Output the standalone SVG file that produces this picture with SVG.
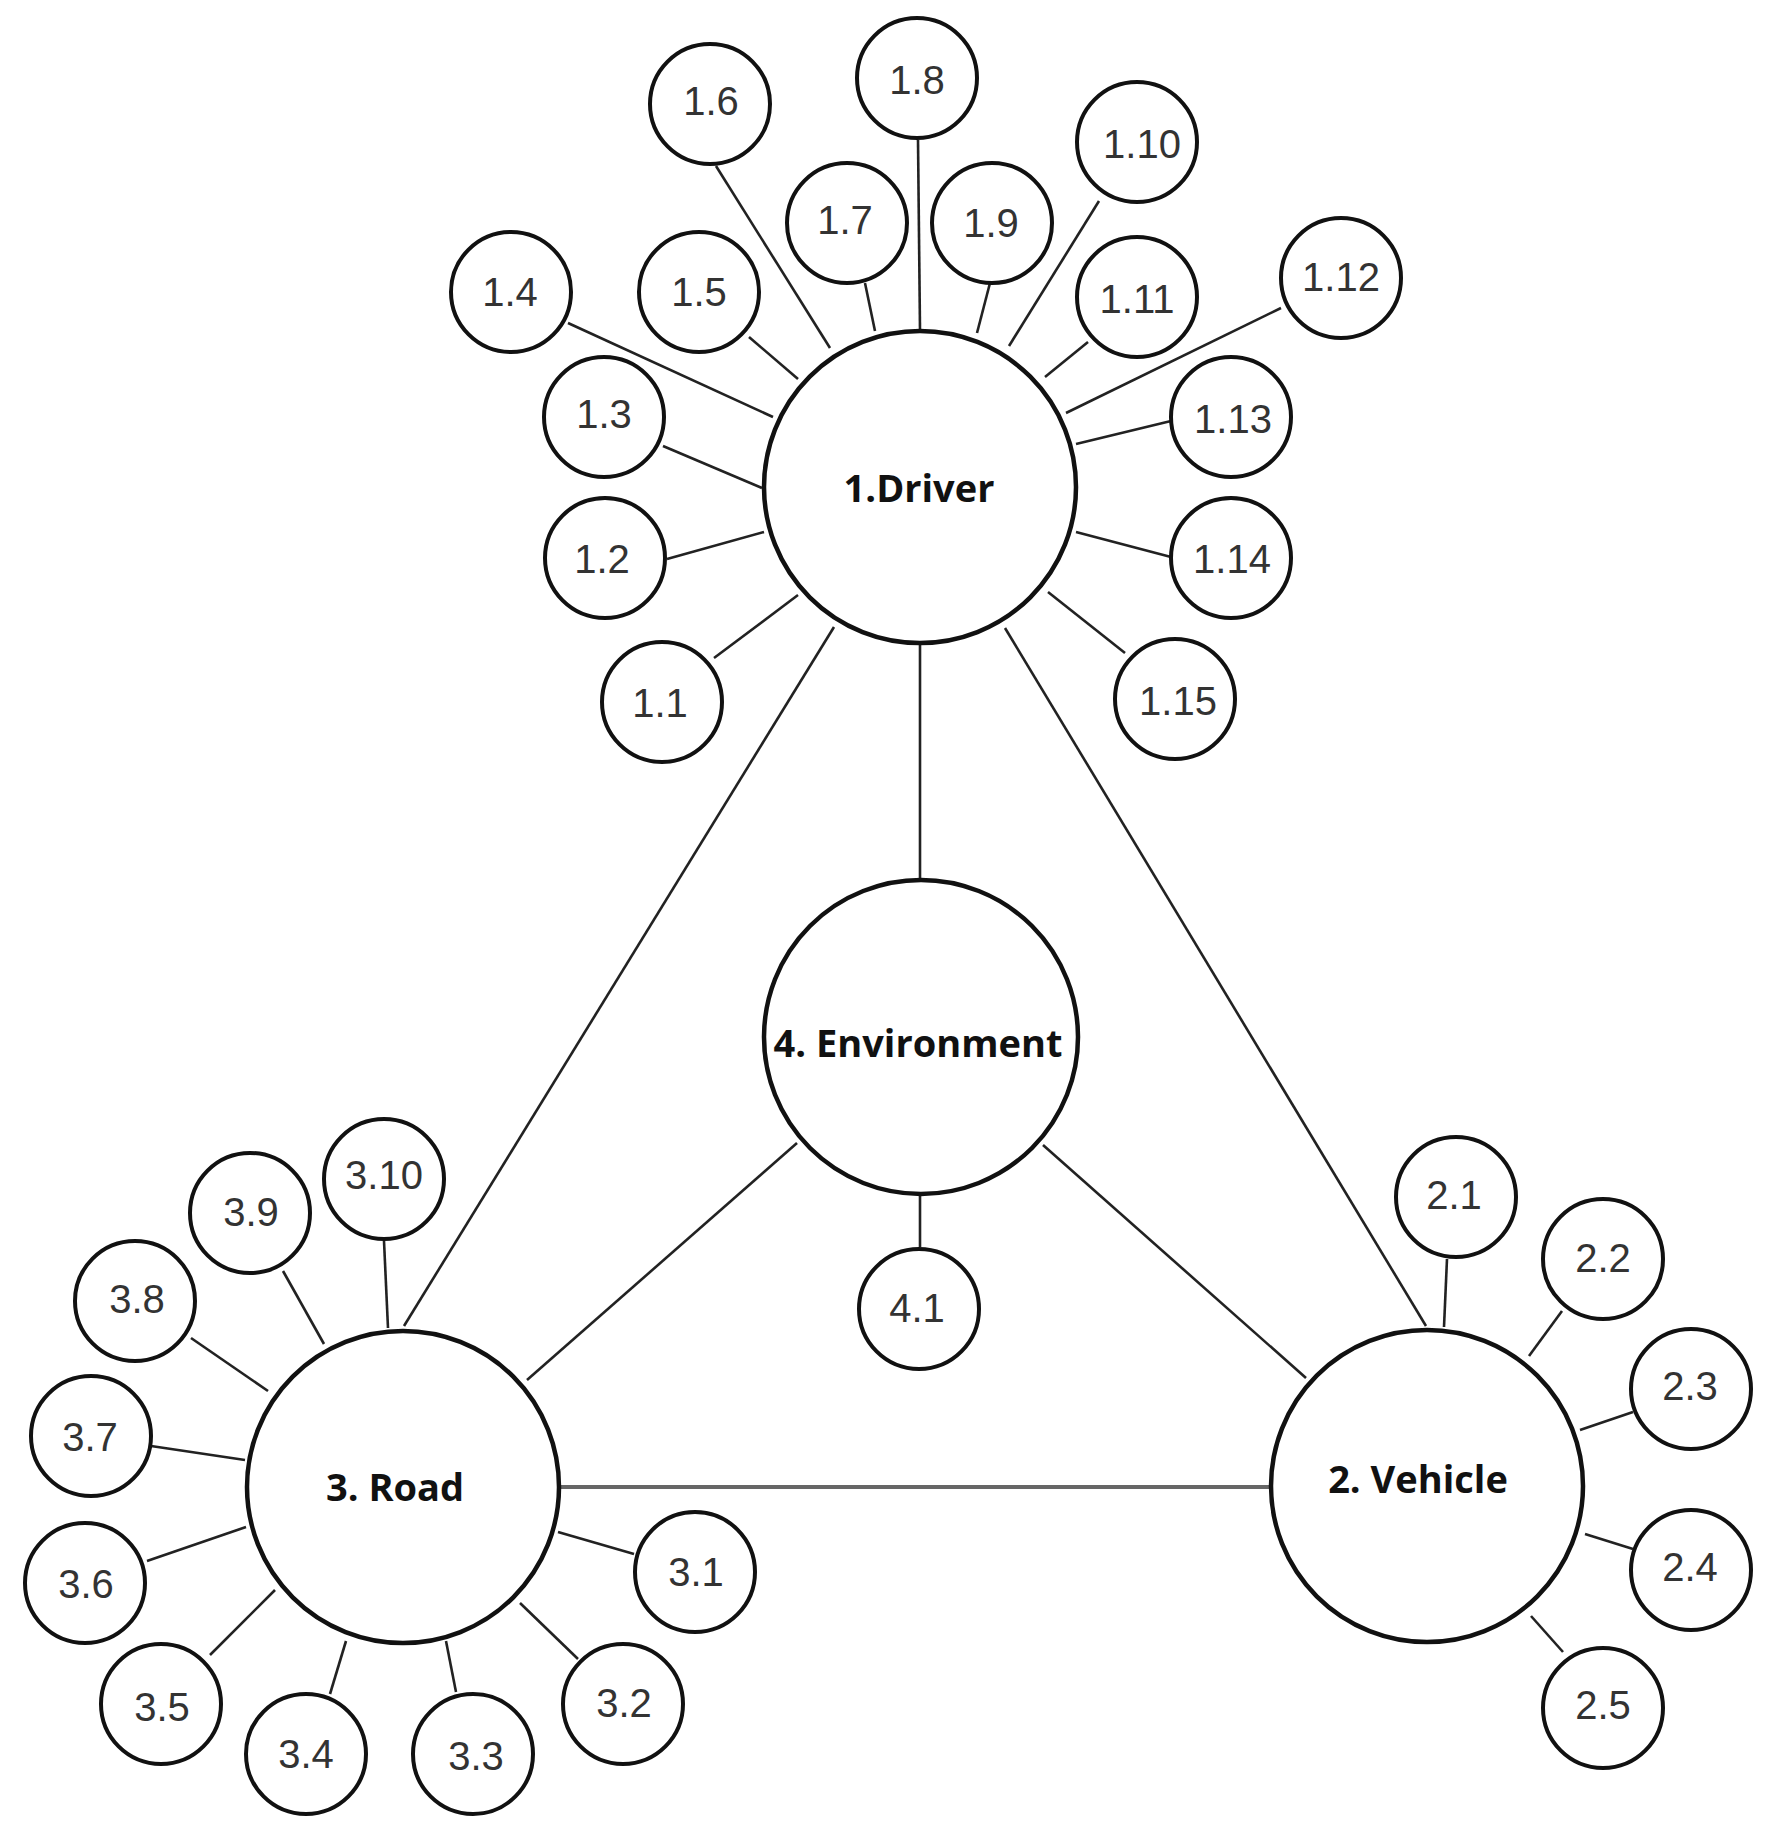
<svg xmlns="http://www.w3.org/2000/svg" width="1776" height="1839" viewBox="0 0 1776 1839">
<style>
.big{fill:#fff;stroke:#111;stroke-width:4.5}
.sm{fill:#fff;stroke:#111;stroke-width:4}
.ln{stroke:#222;stroke-width:2.6;fill:none}
.hl{stroke:#666;stroke-width:4;fill:none}
.bt{font-family:"Open Sans","DejaVu Sans",sans-serif;font-weight:bold;font-size:38px;fill:#111;text-anchor:middle}
.st{font-family:"Liberation Sans",Arial,sans-serif;font-size:40px;fill:#333;text-anchor:middle}
</style>
<rect width="1776" height="1839" fill="#fff"/>
<g id="connectors">
<line class="ln" x1="920" y1="645" x2="920" y2="878"/>
<line class="ln" x1="920" y1="1196" x2="920" y2="1247"/>
<line class="ln" x1="834" y1="627" x2="404" y2="1326"/>
<line class="ln" x1="1005" y1="628" x2="1426" y2="1326"/>
<line class="ln" x1="797" y1="1143" x2="527" y2="1380"/>
<line class="ln" x1="1043" y1="1145" x2="1306" y2="1378"/>
<line class="hl" x1="561" y1="1487" x2="1270" y2="1487"/>
<line class="ln" x1="714" y1="658" x2="798" y2="595"/>
<line class="ln" x1="667" y1="559" x2="764" y2="532"/>
<line class="ln" x1="663" y1="446" x2="762" y2="488"/>
<line class="ln" x1="568" y1="323" x2="773" y2="417"/>
<line class="ln" x1="749" y1="337" x2="798" y2="379"/>
<line class="ln" x1="716" y1="166" x2="830" y2="348"/>
<line class="ln" x1="865" y1="283" x2="875" y2="331"/>
<line class="ln" x1="918" y1="140" x2="920" y2="330"/>
<line class="ln" x1="990" y1="283" x2="977" y2="333"/>
<line class="ln" x1="1099" y1="201" x2="1009" y2="346"/>
<line class="ln" x1="1088" y1="342" x2="1045" y2="377"/>
<line class="ln" x1="1281" y1="308" x2="1066" y2="413"/>
<line class="ln" x1="1171" y1="421" x2="1076" y2="444"/>
<line class="ln" x1="1171" y1="557" x2="1076" y2="532"/>
<line class="ln" x1="1125" y1="653" x2="1048" y2="592"/>
<line class="ln" x1="1447" y1="1259" x2="1444" y2="1327"/>
<line class="ln" x1="1562" y1="1311" x2="1529" y2="1356"/>
<line class="ln" x1="1633" y1="1412" x2="1580" y2="1430"/>
<line class="ln" x1="1633" y1="1549" x2="1585" y2="1534"/>
<line class="ln" x1="1563" y1="1652" x2="1531" y2="1616"/>
<line class="ln" x1="634" y1="1554" x2="558" y2="1532"/>
<line class="ln" x1="578" y1="1659" x2="520" y2="1603"/>
<line class="ln" x1="456" y1="1692" x2="446" y2="1641"/>
<line class="ln" x1="330" y1="1694" x2="346" y2="1641"/>
<line class="ln" x1="210" y1="1655" x2="275" y2="1590"/>
<line class="ln" x1="147" y1="1561" x2="246" y2="1527"/>
<line class="ln" x1="151" y1="1446" x2="245" y2="1460"/>
<line class="ln" x1="191" y1="1338" x2="268" y2="1391"/>
<line class="ln" x1="283" y1="1271" x2="324" y2="1344"/>
<line class="ln" x1="384" y1="1241" x2="388" y2="1328"/>
</g>
<g id="n1"><circle class="big" cx="920" cy="487" r="156"/><text class="bt" x="919" y="502">1.Driver</text></g>
<g id="n2"><circle class="big" cx="1427" cy="1486" r="156"/><text class="bt" x="1418" y="1493">2. Vehicle</text></g>
<g id="n3"><circle class="big" cx="403" cy="1487" r="156"/><text class="bt" x="395" y="1501">3. Road</text></g>
<g id="n4"><circle class="big" cx="921" cy="1037" r="157"/><text class="bt" x="918" y="1057">4. Environment</text></g>
<g id="n1_1"><circle class="sm" cx="662" cy="702" r="60"/><text class="st" x="660" y="717">1.1</text></g>
<g id="n1_2"><circle class="sm" cx="605" cy="558" r="60"/><text class="st" x="602" y="573">1.2</text></g>
<g id="n1_3"><circle class="sm" cx="604" cy="417" r="60"/><text class="st" x="604" y="428">1.3</text></g>
<g id="n1_4"><circle class="sm" cx="511" cy="292" r="60"/><text class="st" x="510" y="306">1.4</text></g>
<g id="n1_5"><circle class="sm" cx="699" cy="292" r="60"/><text class="st" x="699" y="306">1.5</text></g>
<g id="n1_6"><circle class="sm" cx="710" cy="104" r="60"/><text class="st" x="711" y="115">1.6</text></g>
<g id="n1_7"><circle class="sm" cx="847" cy="223" r="60"/><text class="st" x="845" y="234">1.7</text></g>
<g id="n1_8"><circle class="sm" cx="917" cy="78" r="60"/><text class="st" x="917" y="94">1.8</text></g>
<g id="n1_9"><circle class="sm" cx="992" cy="223" r="60"/><text class="st" x="991" y="237">1.9</text></g>
<g id="n1_10"><circle class="sm" cx="1137" cy="142" r="60"/><text class="st" x="1142" y="158">1.10</text></g>
<g id="n1_11"><circle class="sm" cx="1137" cy="297" r="60"/><text class="st" x="1137" y="313">1.11</text></g>
<g id="n1_12"><circle class="sm" cx="1341" cy="278" r="60"/><text class="st" x="1341" y="291">1.12</text></g>
<g id="n1_13"><circle class="sm" cx="1231" cy="417" r="60"/><text class="st" x="1233" y="433">1.13</text></g>
<g id="n1_14"><circle class="sm" cx="1231" cy="558" r="60"/><text class="st" x="1232" y="573">1.14</text></g>
<g id="n1_15"><circle class="sm" cx="1175" cy="699" r="60"/><text class="st" x="1178" y="715">1.15</text></g>
<g id="n2_1"><circle class="sm" cx="1456" cy="1197" r="60"/><text class="st" x="1454" y="1209">2.1</text></g>
<g id="n2_2"><circle class="sm" cx="1603" cy="1259" r="60"/><text class="st" x="1603" y="1272">2.2</text></g>
<g id="n2_3"><circle class="sm" cx="1691" cy="1389" r="60"/><text class="st" x="1690" y="1400">2.3</text></g>
<g id="n2_4"><circle class="sm" cx="1691" cy="1570" r="60"/><text class="st" x="1690" y="1581">2.4</text></g>
<g id="n2_5"><circle class="sm" cx="1603" cy="1708" r="60"/><text class="st" x="1603" y="1719">2.5</text></g>
<g id="n3_1"><circle class="sm" cx="695" cy="1572" r="60"/><text class="st" x="696" y="1586">3.1</text></g>
<g id="n3_2"><circle class="sm" cx="623" cy="1704" r="60"/><text class="st" x="624" y="1717">3.2</text></g>
<g id="n3_3"><circle class="sm" cx="473" cy="1754" r="60"/><text class="st" x="476" y="1770">3.3</text></g>
<g id="n3_4"><circle class="sm" cx="306" cy="1754" r="60"/><text class="st" x="306" y="1768">3.4</text></g>
<g id="n3_5"><circle class="sm" cx="161" cy="1704" r="60"/><text class="st" x="162" y="1721">3.5</text></g>
<g id="n3_6"><circle class="sm" cx="85" cy="1583" r="60"/><text class="st" x="86" y="1598">3.6</text></g>
<g id="n3_7"><circle class="sm" cx="91" cy="1436" r="60"/><text class="st" x="90" y="1451">3.7</text></g>
<g id="n3_8"><circle class="sm" cx="135" cy="1301" r="60"/><text class="st" x="137" y="1313">3.8</text></g>
<g id="n3_9"><circle class="sm" cx="250" cy="1213" r="60"/><text class="st" x="251" y="1226">3.9</text></g>
<g id="n3_10"><circle class="sm" cx="384" cy="1179" r="60"/><text class="st" x="384" y="1189">3.10</text></g>
<g id="n4_1"><circle class="sm" cx="919" cy="1309" r="60"/><text class="st" x="917" y="1322">4.1</text></g>
</svg>
